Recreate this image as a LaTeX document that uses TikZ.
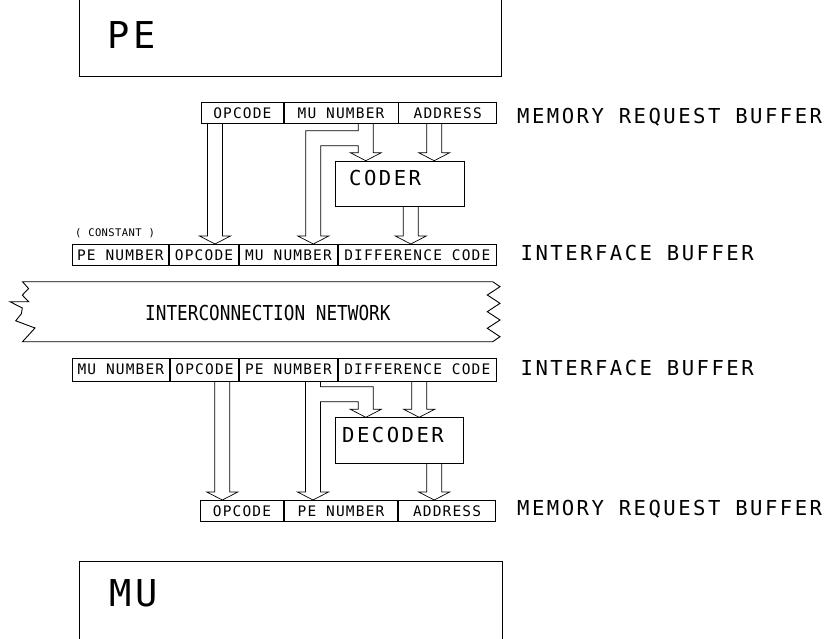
\documentclass[tikz,border=0pt]{standalone}
\usepackage{fontspec}
\newfontfamily\plotfont{DejaVu Sans Mono}[LetterSpace=12]
\newfontfamily\cellfont{DejaVu Sans Mono}[LetterSpace=8]
\newfontfamily\netfont{DejaVu Sans Mono}[FakeStretch=0.86]
\newfontfamily\notefont{DejaVu Sans Mono}[LetterSpace=4]
\usetikzlibrary{positioning,calc}
\tikzset{
  cell/.style={draw,line width=0.7pt,minimum height=21pt,inner sep=0pt,
               text height=10.5pt,text depth=0pt,
               font=\cellfont\fontsize{14.5}{14.5}\selectfont},
  unit/.style={draw,line width=0.7pt,inner sep=0pt},
  tag/.style={anchor=base west,inner sep=0pt,
              font=\plotfont\fontsize{20.6}{20.6}\selectfont},
  bigtag/.style={tag,font=\plotfont\fontsize{37}{37}\selectfont},
  nettag/.style={tag,font=\netfont\fontsize{20.6}{20.6}\selectfont},
  notetag/.style={tag,font=\notefont\fontsize{10.5}{10.5}\selectfont},
  pipe/.style={line width=0.7pt,line join=miter},
}
% hollow arrow: shaft from #1 straight down to the tip #2
\newcommand{\hollow}[2]{%
  \draw[pipe] let \p1=(#1), \p2=(#2) in
    (\x2-7.5pt,\y1) -- (\x2-7.5pt,\y2+8pt) -- (\x2-15.5pt,\y2+8pt) -- (\p2)
    -- (\x2+15.5pt,\y2+8pt) -- (\x2+7.5pt,\y2+8pt) -- (\x2+7.5pt,\y1);}

\begin{document}
\begin{tikzpicture}[x=1pt,y=-1pt]
  \useasboundingbox (0,0) rectangle (836,638);
  \clip (0,0) rectangle (836,638);

  % processing element and memory unit
  \node[unit,minimum width=422pt,minimum height=110pt,anchor=south west] (pe) at (78.5,77) {};
  \node[bigtag] (pe-t) at (107,48) {PE};
  \node[unit,minimum width=423pt,minimum height=110pt,anchor=north west] (mu) at (78.5,561) {};
  \node[bigtag] (mu-t) at (109,606.5) {MU};

  % request buffer on the PE side
  \node[cell,minimum width=82pt,anchor=north west] (rq-op) at (201,102) {OPCODE};
  \node[cell,minimum width=114pt,right=0pt of rq-op] (rq-mu) {MU NUMBER};
  \node[cell,minimum width=98pt,right=0pt of rq-mu] (rq-ad) {ADDRESS};
  \node[tag] (rq-t) at (517,123) {MEMORY REQUEST BUFFER};

  \node[unit,minimum width=129pt,minimum height=45.3pt,anchor=north west] (coder) at (335,160.7) {};
  \node[tag] (coder-t) at (349,185) {CODER};

  % interface buffer, PE side
  \node[notetag] (const) at (75,236.7) {( CONSTANT )};
  \node[cell,minimum width=96.6pt,anchor=north west] (if-pe) at (71.7,244) {PE NUMBER};
  \node[cell,minimum width=69.4pt,right=0pt of if-pe] (if-op) {OPCODE};
  \node[cell,minimum width=98pt,right=0pt of if-op] (if-mu) {MU NUMBER};
  \node[cell,minimum width=158.3pt,right=0pt of if-mu] (if-dc) {DIFFERENCE CODE};
  \node[tag] (if-t) at (520.5,260) {INTERFACE BUFFER};

  % network band with torn ends
  \draw[pipe,line width=0.9pt] (22.5,281.7) -- (492.7,281.7) -- (500,286.7) -- (487.3,295)
    -- (500,303.3) -- (487.3,311.7) -- (500,320) -- (487.3,328.3) -- (500,336.7)
    -- (492.7,341.7) -- (22.5,341.7) -- (35,328) -- (15.7,320.8) -- (21.4,313.7)
    -- (22.3,308) -- (10,301.7) -- (28.6,301.7) -- (22.3,295.1) -- (28.6,288.6) -- cycle;
  \node[nettag] (net) at (145,320) {INTERCONNECTION NETWORK};

  % interface buffer, MU side
  \node[cell,minimum width=97.6pt,minimum height=22.5pt,anchor=north west] (it-mu) at (71.7,358) {MU NUMBER};
  \node[cell,minimum width=68.4pt,minimum height=22.5pt,right=0pt of it-mu] (it-op) {OPCODE};
  \node[cell,minimum width=98pt,minimum height=22.5pt,right=0pt of it-op] (it-pe) {PE NUMBER};
  \node[cell,minimum width=158.3pt,minimum height=22.5pt,right=0pt of it-pe] (it-dc) {DIFFERENCE CODE};
  \node[tag] (it-t) at (520.5,375) {INTERFACE BUFFER};

  \node[unit,minimum width=128.3pt,minimum height=45.4pt,anchor=north west] (decoder) at (335,417.3) {};
  \node[tag] (decoder-t) at (342,442.3) {DECODER};

  % request buffer on the MU side
  \node[cell,minimum width=83.3pt,anchor=north west] (mr-op) at (200,500) {OPCODE};
  \node[cell,minimum width=113.4pt,right=0pt of mr-op] (mr-pe) {PE NUMBER};
  \node[cell,minimum width=97.3pt,right=0pt of mr-pe] (mr-ad) {ADDRESS};
  \node[tag] (mr-t) at (517,515.7) {MEMORY REQUEST BUFFER};

  % PE side transfers
  \hollow{215,0 |- rq-op.south}{215,0 |- if-op.north}
  \draw[pipe] (358.3,0 |- rq-mu.south) -- (358.3,130.7) -- (305.8,130.7) -- (305.8,236)
    -- (297.8,236) -- (313.3,0 |- if-mu.north) -- (328.8,236) -- (320.8,236)
    -- (320.8,145.7) -- (358.3,145.7) -- (358.3,152.7) -- (350.3,152.7)
    -- (365.8,0 |- coder.north) -- (381.3,152.7) -- (373.3,152.7) -- (373.3,0 |- rq-mu.south);
  \hollow{434.2,0 |- rq-ad.south}{434.2,0 |- coder.north}
  \hollow{410.8,0 |- coder.south}{410.8,0 |- if-dc.north}

  % MU side transfers
  \hollow{222.3,0 |- it-op.south}{222.3,0 |- mr-op.north}
  \draw[pipe] (320.5,0 |- it-pe.south) -- (320.5,386.7) -- (373.3,386.7) -- (373.3,409.3)
    -- (381.3,409.3) -- (365.8,0 |- decoder.north) -- (350.3,409.3) -- (358.3,409.3)
    -- (358.3,401.7) -- (320.5,401.7) -- (320.5,492) -- (328.5,492)
    -- (313,0 |- mr-pe.north) -- (297.5,492) -- (305.5,492) -- (305.5,0 |- it-pe.south);
  \hollow{419.2,0 |- it-dc.south}{419.2,0 |- decoder.north}
  \hollow{434.2,0 |- decoder.south}{434.2,0 |- mr-ad.north}
\end{tikzpicture}
\end{document}
